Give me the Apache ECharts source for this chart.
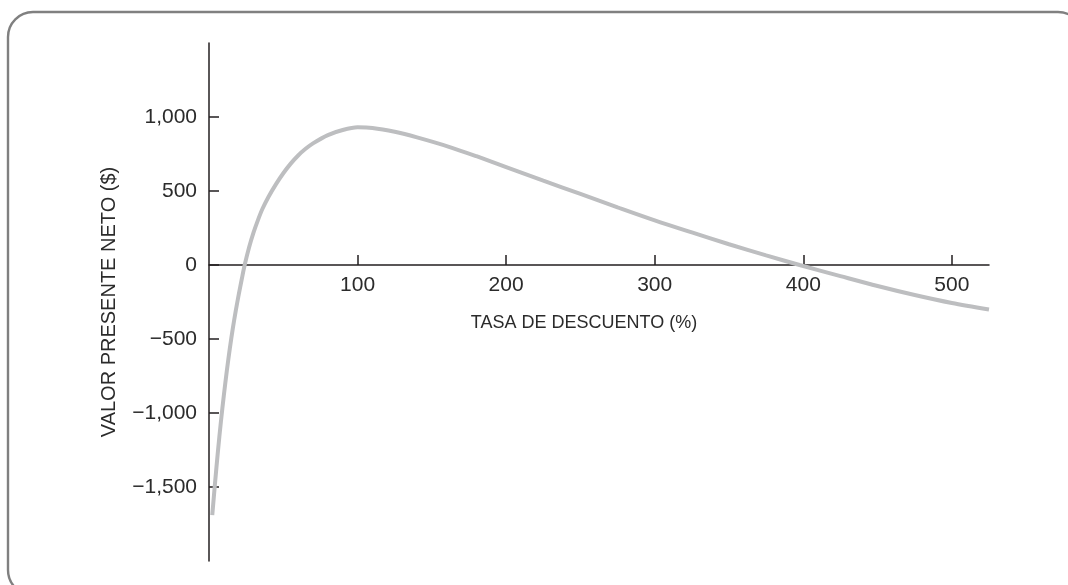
<!DOCTYPE html>
<html>
<head>
<meta charset="utf-8">
<script src="https://cdn.jsdelivr.net/npm/echarts@6/dist/echarts.min.js"></script>
<style>
html,body{margin:0;padding:0;background:#fff;}
#chart{width:1068px;height:585px;}
</style>
</head>
<body>
<div id="chart"></div>
<script>
// Discount rate (%) and NPV ($)
const rates = [2.2, 4, 6, 8, 10, 12, 14, 16, 18, 20, 22, 24, 27, 30, 33, 36, 40, 45, 50, 55, 60, 65, 70, 80, 90, 100, 110, 125, 140, 162, 180, 200, 225, 250, 275, 300, 325, 350, 375, 397.5, 425, 450, 475, 500, 525];
const npv   = [-1690, -1480, -1260, -1060, -880, -715, -565, -430, -310, -200, -98, 0, 120, 220, 305, 380, 460, 545, 620, 685, 740, 785, 822, 878, 912, 930, 926, 900, 862, 797, 735, 662, 570, 480, 390, 302, 220, 140, 65, 0, -75, -142, -203, -257, -301];
const xTicks = [100, 200, 300, 400, 500];
const yTicks = [-1500, -1000, -500, 0, 500, 1000];
const xName = 'TASA DE DESCUENTO (%)';
const yName = 'VALOR PRESENTE NETO ($)';

function fmtY(v) {
  const a = Math.abs(v);
  const s = a >= 1000 ? Math.floor(a / 1000) + ',' + String(a % 1000).padStart(3, '0') : String(a);
  return (v < 0 ? '\u2212' : '') + s;
}

const chart = echarts.init(document.getElementById('chart'));
const axisColor = '#231f20';
const textColor = '#2b2b2b';
const font = 'Liberation Sans, Arial, sans-serif';
const gridTop = 43, gridBottom = 24, yMin = -2000, yMax = 1500;
const plotH = 585 - gridTop - gridBottom;
const zeroFromBottom = plotH * (0 - yMin) / (yMax - yMin);
chart.setOption({
  animation: false,
  backgroundColor: '#ffffff',
  graphic: [{
    type: 'rect',
    shape: { x: 8, y: 12, width: 1075, height: 583, r: 25 },
    style: { fill: 'none', stroke: '#808080', lineWidth: 2.4 },
    silent: true
  }],
  grid: { left: 209, right: 79, top: gridTop, bottom: gridBottom, outerBoundsMode: 'none', containLabel: false },
  xAxis: {
    type: 'value',
    min: 0, max: 525,
    position: 'bottom',
    offset: -zeroFromBottom,
    name: xName,
    nameLocation: 'middle',
    nameGap: 49,
    nameTextStyle: { fontFamily: font, fontSize: 18, color: textColor, padding: [0, 30, 0, 0] },
    axisLine: { onZero: false, lineStyle: { color: axisColor, width: 1.5 } },
    axisTick: { inside: true, length: 10, customValues: xTicks, lineStyle: { color: axisColor, width: 1.5 } },
    axisLabel: { customValues: xTicks, margin: 10, fontFamily: font, fontSize: 21, color: textColor, formatter: v => String(v) },
    splitLine: { show: false }
  },
  yAxis: {
    type: 'value',
    min: yMin, max: yMax,
    name: yName,
    nameLocation: 'middle',
    nameGap: 90,
    nameTextStyle: { fontFamily: font, fontSize: 20, color: textColor },
    axisLine: { onZero: false, lineStyle: { color: axisColor, width: 1.5 } },
    axisTick: { inside: true, length: 10, customValues: yTicks, lineStyle: { color: axisColor, width: 1.5 } },
    axisLabel: { customValues: yTicks, margin: 12, fontFamily: font, fontSize: 21, color: textColor, formatter: fmtY },
    splitLine: { show: false }
  },
  series: [{
    type: 'line',
    data: rates.map((r, i) => [r, npv[i]]),
    smooth: 0.3,
    showSymbol: false,
    lineStyle: { color: '#bdbec0', width: 4, cap: 'butt' },
    clip: false
  }]
});
</script>
</body>
</html>
